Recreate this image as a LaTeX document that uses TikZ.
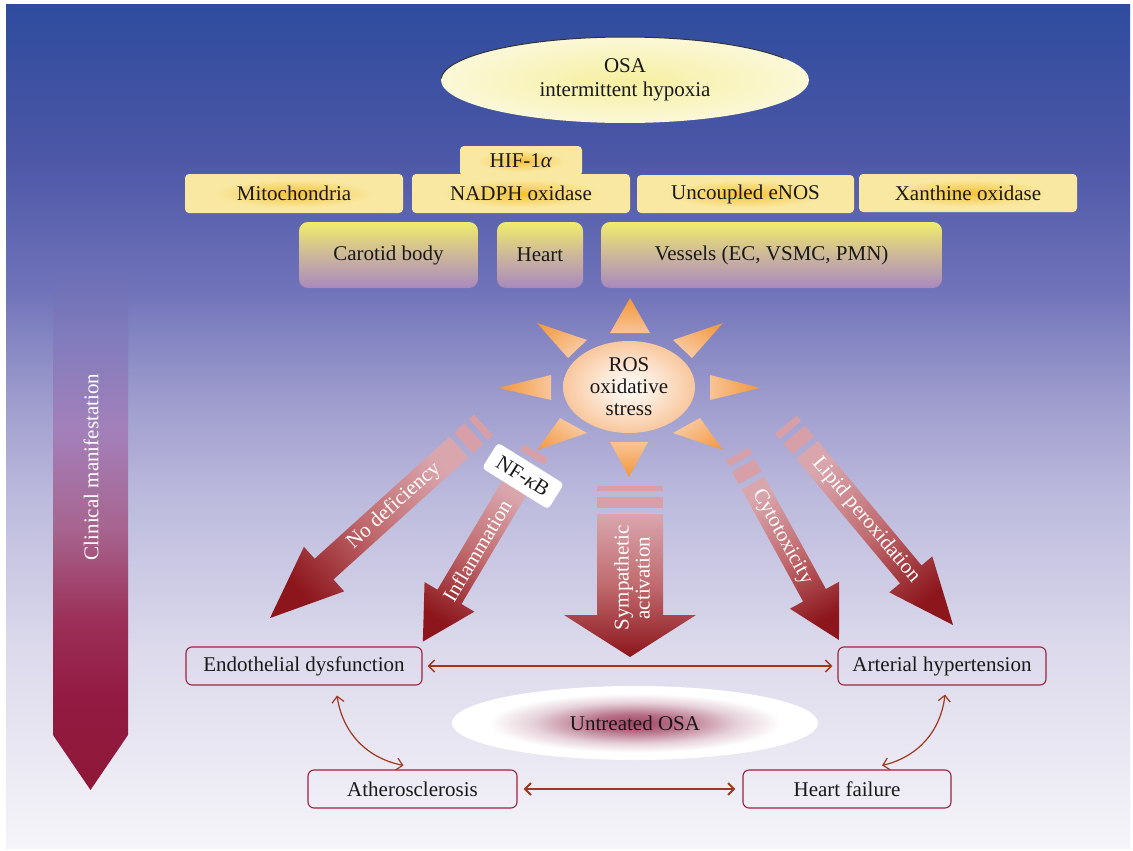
\documentclass[tikz,border=0pt]{standalone}
\usepackage{fontspec}
\setmainfont{Liberation Serif}
\usetikzlibrary{arrows.meta,calc,shapes.geometric}

\definecolor{bgA}{HTML}{2F4C9E}
\definecolor{bgB}{HTML}{4B56A6}
\definecolor{bgC}{HTML}{7073B9}
\definecolor{bgD}{HTML}{9E9CCD}
\definecolor{bgE}{HTML}{BDBBDD}
\definecolor{bgF}{HTML}{DCDAEB}
\definecolor{bgG}{HTML}{F5F4F9}
\definecolor{clA}{HTML}{686DB5}
\definecolor{clB}{HTML}{827CBC}
\definecolor{clC}{HTML}{A380BA}
\definecolor{clD}{HTML}{A7648E}
\definecolor{clE}{HTML}{9C3058}
\definecolor{clF}{HTML}{931A42}
\definecolor{clG}{HTML}{8E1838}
\definecolor{glowC}{HTML}{F4C232}
\definecolor{glowM}{HTML}{F7D468}
\definecolor{pale}{HTML}{F9E8A2}
\definecolor{orgT}{HTML}{EFEC6C}
\definecolor{orgM}{HTML}{CDB79A}
\definecolor{orgB}{HTML}{A889BE}
\definecolor{osaC}{HTML}{F6EFA0}
\definecolor{osaE}{HTML}{FBF8D8}
\definecolor{rosC}{HTML}{FFFCF8}
\definecolor{rosM}{HTML}{FDEADA}
\definecolor{rosE}{HTML}{F8C79D}
\definecolor{rayT}{HTML}{F2963A}
\definecolor{rayB}{HTML}{F9CBA4}
\definecolor{arrT}{HTML}{D9A6AD}
\definecolor{arrM}{HTML}{C06A6E}
\definecolor{arrH}{HTML}{8C161C}
\definecolor{stripec}{HTML}{D7A0A9}
\definecolor{boxred}{HTML}{A0213F}
\definecolor{connred}{HTML}{A0381F}
\definecolor{untC}{HTML}{A04562}
\definecolor{untM}{HTML}{B87088}
\definecolor{untL}{HTML}{E6D2DA}

\pgfdeclareverticalshading{bgshade}{100bp}{color(0bp)=(bgG); color(25bp)=(bgG); color(36.7bp)=(bgF); color(45.6bp)=(bgE); color(51.6bp)=(bgD); color(58.1bp)=(bgC); color(66.4bp)=(bgB); color(75bp)=(bgA); color(100bp)=(bgA)}
\pgfdeclareverticalshading{clinshade}{100bp}{color(0bp)=(clG); color(25bp)=(clG); color(33.5bp)=(clF); color(41bp)=(clE); color(49.5bp)=(clD); color(59bp)=(clC); color(67.5bp)=(clB); color(75bp)=(clA); color(100bp)=(clA)}
\pgfdeclareradialshading{glow}{\pgfpoint{0bp}{0bp}}{color(0bp)=(glowC); color(8bp)=(glowM); color(18bp)=(pale); color(50bp)=(pale)}
\pgfdeclareradialshading{osashade}{\pgfpoint{0bp}{0bp}}{color(0bp)=(osaC); color(25bp)=(osaE); color(50bp)=(osaE)}
\pgfdeclareradialshading{rosshade}{\pgfpoint{0bp}{0bp}}{color(0bp)=(rosC); color(10bp)=(rosM); color(25bp)=(rosE); color(50bp)=(rosE)}
\pgfdeclareradialshading{untshade}{\pgfpoint{0bp}{0bp}}{color(0bp)=(untC); color(6bp)=(untM); color(14bp)=(untL); color(20bp)=(white); color(50bp)=(white)}
\pgfdeclareradialshading{rayshade}{\pgfpoint{0bp}{0bp}}{color(0bp)=(rayB); color(14bp)=(rayB); color(25bp)=(rayT); color(50bp)=(rayT)}

\tikzset{
  every node/.style={font=\fontsize{21}{22}\selectfont, text=black!90},
  ybox/.style={shade, shading=glow, rounded corners=4pt, inner sep=0pt},
  organ/.style={top color=orgT, bottom color=orgB, middle color=orgM, rounded corners=9pt, inner sep=0pt, minimum height=66pt},
  outbox/.style={draw=boxred, line width=1.1pt, rounded corners=6pt, minimum height=38pt, inner sep=0pt},
  conn/.style={draw=connred, line width=1.5pt, {Straight Barb[length=6pt,width=12pt]}-{Straight Barb[length=6pt,width=12pt]}},
  wlabel/.style={text=white},
  stripe/.style={fill=stripec},
}

% #1 tail, #2 angle, #3 length, #4 body half width, #5 head half width, #6 head length, #7 thick stripe, #8 thin stripe
\newcommand{\fatarrow}[8]{%
  \pgfmathsetmacro{\fatang}{#2+90}%
  \pgfmathsetmacro{\fatneck}{#3-#6}%
  \pgfmathsetmacro{\stA}{-6-#7}%
  \pgfmathsetmacro{\stB}{-12-#7}%
  \pgfmathsetmacro{\stC}{-12-#7-#8}%
  \begin{scope}[shift={#1}, rotate=#2]
    \path[top color=arrT, bottom color=arrH, middle color=arrM, shading angle=\fatang]
      (0,-#4) -- (\fatneck,-#4) -- (\fatneck,-#5) -- (#3,0) -- (\fatneck,#5) -- (\fatneck,#4) -- (0,#4) -- cycle;
    \fill[stripe] (-6,-#4) rectangle (\stA,#4);
    \fill[stripe] (\stB,-#4) rectangle (\stC,#4);
  \end{scope}}

\begin{document}
\begin{tikzpicture}[x=1pt,y=1pt]
\useasboundingbox (0,0) rectangle (1133,-851);
\fill[white] (0,0) rectangle (1133,-851);
\shade[shading=bgshade] (6,-5) rectangle (1130,-848);

% clinical manifestation arrow
\shade[shading=clinshade] (53,-260) -- (128,-260) -- (128,-735) -- (90.5,-790) -- (53,-735) -- cycle;
\node[wlabel, rotate=90] (clin) at (91,-467) {Clinical manifestation};

% OSA ellipse
\node[ellipse, shade, shading=osashade, minimum width=368pt, minimum height=86pt, inner sep=0pt, align=center, font=\fontsize{21}{24}\selectfont] (osa) at (625,-80) {OSA\\intermittent hypoxia};
\draw[black!80, line width=1pt] ([shift={(178:184pt and 43pt)}]osa.center) arc[start angle=178, end angle=30, x radius=184pt, y radius=43pt];

% enzyme boxes
\node[ybox, minimum width=122pt, minimum height=30pt] (hif) at (521,-161) {HIF-1\textit{α}};
\node[ybox, minimum width=218pt, minimum height=39pt] (mito) at (294,-193.5) {Mitochondria};
\node[ybox, minimum width=218pt, minimum height=39pt] (nadph) at (521,-193.5) {NADPH oxidase};
\node[ybox, minimum width=217pt, minimum height=38pt] (enos) at (745.5,-194) {Uncoupled eNOS};
\node[ybox, minimum width=218pt, minimum height=38pt] (xo) at (968,-193) {Xanthine oxidase};

% organ boxes
\node[organ, minimum width=179pt] (carotid) at (388.5,-255) {Carotid body};
\node[organ, minimum width=86pt] (heart) at (540,-255) {Heart};
\node[organ, minimum width=341pt] (vessels) at (771.5,-255) {Vessels (EC, VSMC, PMN)};

% big arrows
\fatarrow{(459,-447)}{-137.86}{255}{14}{30}{73}{14}{7}
\fatarrow{(519,-480)}{-120.75}{188}{14}{29}{52}{14}{7}
\fatarrow{(630,-514)}{-90}{143}{33}{66}{42}{11}{5}
\fatarrow{(753,-483)}{-61.29}{179}{13}{28}{51}{14}{7}
\fatarrow{(807,-450)}{-50.16}{228}{14}{28}{66}{14}{7}

\node[fill=white, rounded corners=4pt, rotate=-32, minimum width=78pt, minimum height=30pt, inner sep=0pt] (nfkb) at (523,-476) {NF-\textit{κ}B};

\node[wlabel, rotate=42.14] (nodef) at (394,-506) {No deficiency};
\node[wlabel, rotate=59.25] (infl) at (477,-551) {Inflammation};
\node[wlabel, rotate=90, align=center, font=\fontsize{21}{21}\selectfont] (symp) at (632,-578) {Sympathetic\\activation};
\node[wlabel, rotate=-61.29] (cyto) at (782,-537) {Cytotoxicity};
\node[wlabel, rotate=-50.16] (lipid) at (866,-520) {Lipid peroxidation};

% sun rays
\shade[shading=rayshade]
  (630,-298) -- (610,-333) -- (650,-333) -- cycle
  (629,-477) -- (610,-442) -- (648,-442) -- cycle
  (498,-388) -- (551,-375) -- (551,-400) -- cycle
  (760,-388) -- (710,-375) -- (710,-400) -- cycle
  (537,-323) -- (587,-340) -- (568,-358) -- cycle
  (723,-323) -- (673,-340) -- (692,-358) -- cycle
  (537,-450) -- (560,-418) -- (587,-433) -- cycle
  (723,-450) -- (700,-418) -- (673,-433) -- cycle;

% ROS
\node[ellipse, shade, shading=rosshade, minimum width=132pt, minimum height=92pt, inner sep=0pt, align=center] (ros) at (629,-387) {ROS\\oxidative\\stress};

% Untreated OSA
\node[ellipse, shade, shading=untshade, minimum width=366pt, minimum height=74pt, inner sep=0pt] (untr) at (635,-723) {Untreated OSA};

% outcome boxes
\node[outbox, minimum width=236pt] (endo) at (304,-666) {Endothelial dysfunction};
\node[outbox, minimum width=208pt] (art) at (942,-666) {Arterial hypertension};
\node[outbox, minimum width=209pt] (ath) at (412.5,-789) {Atherosclerosis};
\node[outbox, minimum width=208pt] (hf) at (847,-789) {Heart failure};

\draw[conn, shorten <=5pt, shorten >=5pt] (endo.east) -- (art.west);
\draw[conn, line width=2pt, shorten <=6pt, shorten >=7pt] (ath.east) -- (hf.west);
\draw[conn, line width=1.2pt] ([xshift=33pt,yshift=-10pt]endo.south) to[bend right=35] ([xshift=-9pt,yshift=4pt]ath.north);
\draw[conn, line width=1.2pt] ([xshift=35pt,yshift=4pt]hf.north) to[bend right=35] ([xshift=3pt,yshift=-9pt]art.south);
\end{tikzpicture}
\end{document}
